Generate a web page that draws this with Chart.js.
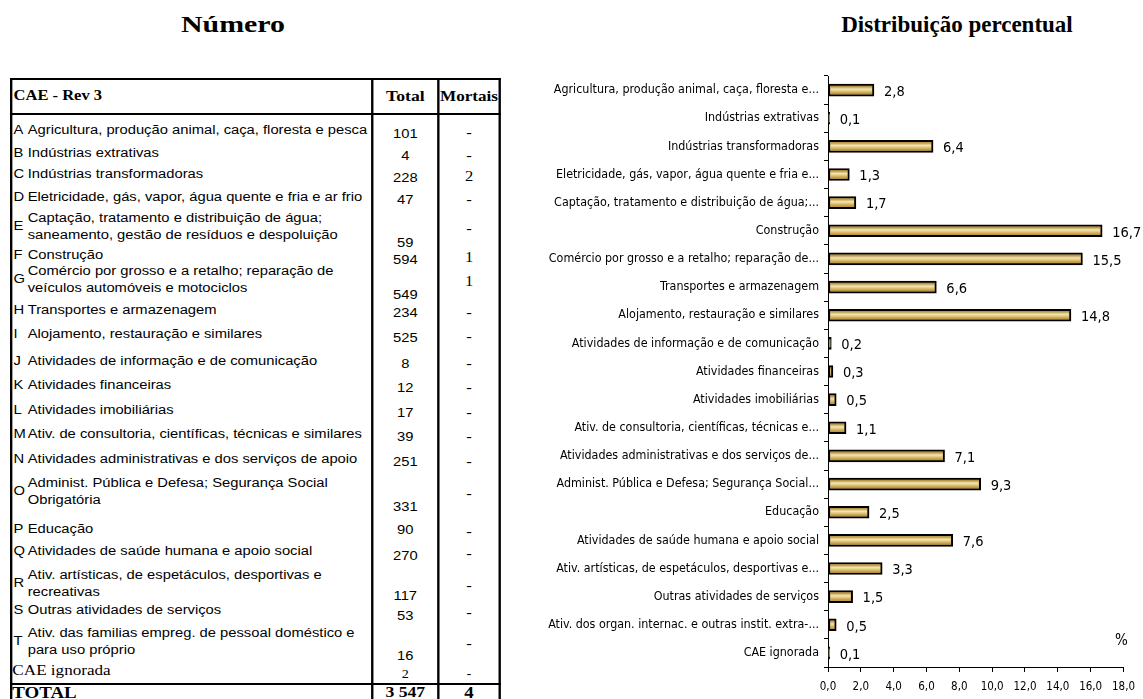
<!DOCTYPE html>
<html>
<head>
<meta charset="utf-8">
<script src="https://cdn.jsdelivr.net/npm/chart.js@4"></script>
<style>
  body { margin: 0; background: #fff; width: 1143px; height: 699px; overflow: hidden; position: relative; }
  .title { position: absolute; top: 12px; font: bold 23px "Liberation Serif", "Times New Roman", serif; color: #000; white-space: nowrap; }
  #t1 { left: 233px; transform: translateX(-50%) scaleX(1.3); }
  #t2 { left: 957px; transform: translateX(-50%); }
  /* table drawn in unscaled units, stretched sideways like the source */
  #tbl { position: absolute; left: 10px; top: 78px; width: 416px; height: 640px; transform: scaleX(1.18); transform-origin: 0 0;
         font: 12.5px "Liberation Sans", Arial, sans-serif; color: #000; }
  #tbl .ln { position: absolute; background: #000; }
  #tbl .tx { position: absolute; white-space: nowrap; line-height: 17px; }
  #tbl .ctr { transform: translateX(-50%); text-align: center; }
  #tbl .serif { font-family: "Liberation Serif", "Times New Roman", serif; }
  #tbl .hd { font: bold 15px "Liberation Serif", "Times New Roman", serif; }
  #chartBox { position: absolute; left: 540px; top: 60px; width: 603px; height: 639px; }
  #pct { position: absolute; left: 1115px; top: 631px; font: 15px "DejaVu Sans Condensed", sans-serif; }
</style>
</head>
<body>
<div class="title" id="t1">Número</div>
<div class="title" id="t2">Distribuição percentual</div>
<div id="tbl"></div>
<div id="chartBox"><canvas id="chart"></canvas></div>
<div id="pct">%</div>
<script>
// left table: number of accidents by CAE section
const sectionLetters = ['A','B','C','D','E','F','G','H','I','J','K','L','M','N','O','P','Q','R','S','T',''];
const sectionNames = [
  'Agricultura, produção animal, caça, floresta e pesca',
  'Indústrias extrativas',
  'Indústrias transformadoras',
  'Eletricidade, gás, vapor, água quente e fria e ar frio',
  'Captação, tratamento e distribuição de água;<br>saneamento, gestão de resíduos e despoluição',
  'Construção',
  'Comércio por grosso e a retalho; reparação de<br>veículos automóveis e motociclos',
  'Transportes e armazenagem',
  'Alojamento, restauração e similares',
  'Atividades de informação e de comunicação',
  'Atividades financeiras',
  'Atividades imobiliárias',
  'Ativ. de consultoria, científicas, técnicas e similares',
  'Atividades administrativas e dos serviços de apoio',
  'Administ. Pública e Defesa; Segurança Social<br>Obrigatória',
  'Educação',
  'Atividades de saúde humana e apoio social',
  'Ativ. artísticas, de espetáculos, desportivas e<br>recreativas',
  'Outras atividades de serviços',
  'Ativ. das familias empreg. de pessoal doméstico e<br>para uso próprio',
  'CAE ignorada'
];
const totals = ['101','4','228','47','59','594','549','234','525','8','12','17','39','251','331','90','270','117','53','16','2'];
const deaths = ['-','-','2','-','-','1','1','-','-','-','-','-','-','-','-','-','-','-','-','-','-'];
const grandTotal = '3 547';
const grandDeaths = '4';

// table layout (page y of first text line and of the total, per row)
const textY = [130,153,174,197,218,255,271,310,334,361,385,410,434,459,483,529,551,575,610,633,670];
const valueY = [134,156,178,200,243,260,295,313,338,364,388,413,437,462,507,530,556,596,616,656,674];

// right chart: percentage distribution
const chartLabels = [
  'Agricultura, produção animal, caça, floresta e...',
  'Indústrias extrativas',
  'Indústrias transformadoras',
  'Eletricidade, gás, vapor, água quente e fria e...',
  'Captação, tratamento e distribuição de água;...',
  'Construção',
  'Comércio por grosso e a retalho; reparação de...',
  'Transportes e armazenagem',
  'Alojamento, restauração e similares',
  'Atividades de informação e de comunicação',
  'Atividades financeiras',
  'Atividades imobiliárias',
  'Ativ. de consultoria, científicas, técnicas e...',
  'Atividades administrativas e dos serviços de...',
  'Administ. Pública e Defesa; Segurança Social...',
  'Educação',
  'Atividades de saúde humana e apoio social',
  'Ativ. artísticas, de espetáculos, desportivas e...',
  'Outras atividades de serviços',
  'Ativ. dos organ. internac. e outras instit. extra-...',
  'CAE ignorada'
];
const percentages = [2.8, 0.1, 6.4, 1.3, 1.7, 16.7, 15.5, 6.6, 14.8, 0.2, 0.3, 0.5, 1.1, 7.1, 9.3, 2.5, 7.6, 3.3, 1.5, 0.5, 0.1];

// ---- table ----
const tbl = document.getElementById('tbl');
const TOP = 78;            // page y of the table top
const COL_TOTAL = 306, COL_MORT = 362, WIDTH = 416;   // unscaled x of column rules

function line(x, y, w, h) {
  const d = document.createElement('div');
  d.className = 'ln';
  Object.assign(d.style, { left: x + 'px', top: y + 'px', width: w + 'px', height: h + 'px' });
  tbl.appendChild(d);
}
function put(html, x, pageY, cls) {
  const d = document.createElement('div');
  d.className = 'tx ' + (cls || '');
  d.innerHTML = html;
  d.style.left = x + 'px';
  d.style.top = (pageY - TOP - 8.5) + 'px';
  tbl.appendChild(d);
  return d;
}

line(0, 0, WIDTH, 2);                 // top
line(0, 0, 2, 640);                   // left
line(WIDTH - 2, 0, 2, 640);           // right
line(COL_TOTAL, 0, 2, 640);
line(COL_MORT, 0, 2, 640);
line(0, 35, WIDTH, 2);                // under header
line(0, 683 - TOP, WIDTH, 2);         // above TOTAL

put('CAE - Rev 3', 3, 96, 'hd').style.fontSize = '14px';
const midT = (COL_TOTAL + COL_MORT) / 2 + 1;
const midM = (COL_MORT + WIDTH) / 2;
put('Total', midT, 96, 'hd ctr');
put('Mortais', midM, 96, 'hd ctr').style.fontSize = '14.5px';

sectionNames.forEach((name, i) => {
  const two = name.includes('<br>');
  if (sectionLetters[i]) {
    put(sectionLetters[i], 3, two ? textY[i] + 8.5 : textY[i]);
    put(name, 15, textY[i]);
    put(totals[i], midT, valueY[i], 'ctr');
    const d = put(deaths[i], midM, two ? textY[i] + 10 : textY[i] + 2, 'ctr serif');
    d.style.fontSize = '14px';
  } else {
    const n = put(name, 2, textY[i], 'serif');
    n.style.fontSize = '14.5px';
    const v = put(totals[i], midT, valueY[i], 'ctr serif');
    v.style.fontSize = '12px';
    put(deaths[i], midM, valueY[i], 'ctr');
  }
});
put('TOTAL', 2, 692, 'hd').style.fontSize = '16px';
put(grandTotal, midT, 692, 'hd ctr');
put(grandDeaths, midM, 692, 'hd ctr').style.fontSize = '16px';

// ---- chart ----
// condensed sans to stand in for Arial Narrow
const narrow = '"DejaVu Sans Condensed", "DejaVu Sans", sans-serif';
const fmt = v => v.toFixed(1).replace('.', ',');

// paints the gold gradient inside each bar border and the value next to it
const goldBars = {
  id: 'goldBars',
  afterDatasetsDraw(chart) {
    const ctx = chart.ctx;
    const meta = chart.getDatasetMeta(0);
    meta.data.forEach((bar, i) => {
      const p = bar.getProps(['x', 'y', 'base', 'height'], true);
      const bw = 2;
      const top = p.y - p.height / 2 + bw, bot = p.y + p.height / 2 - bw;
      const left = Math.min(p.base, p.x) + bw, right = Math.max(p.base, p.x) - bw;
      if (right > left) {
        const g = ctx.createLinearGradient(0, top, 0, bot);
        g.addColorStop(0, '#a98331');
        g.addColorStop(0.38, '#f4e6b2');
        g.addColorStop(0.6, '#e3c981');
        g.addColorStop(1, '#b48c36');
        ctx.fillStyle = g;
        ctx.fillRect(left, top, right - left, bot - top);
      }
      ctx.save();
      ctx.font = '14.5px ' + narrow;
      ctx.fillStyle = '#000';
      ctx.textBaseline = 'middle';
      ctx.fillText(fmt(percentages[i]), p.x + 10, p.y + 2);
      ctx.restore();
    });
  }
};

new Chart(document.getElementById('chart'), {
  type: 'bar',
  data: {
    labels: chartLabels,
    datasets: [{
      data: percentages,
      backgroundColor: '#d4b060',
      borderColor: '#000',
      borderWidth: 2,
      borderSkipped: false,
      barThickness: 12
    }]
  },
  options: {
    indexAxis: 'y',
    responsive: true,
    maintainAspectRatio: false,
    animation: false,
    layout: { padding: { top: 16, right: 15, left: 0, bottom: 0 } },
    plugins: { legend: { display: false }, tooltip: { enabled: false } },
    scales: {
      x: {
        min: 0, max: 18,
        ticks: { stepSize: 2, color: '#000', font: { family: narrow, size: 11.5 }, padding: 8,
                 maxRotation: 0, callback: v => fmt(v) },
        grid: { drawOnChartArea: false, color: '#000', tickLength: 5 },
        border: { color: '#000' },
        afterFit: s => { s.height = 32; }
      },
      y: {
        ticks: { color: '#000', font: { family: narrow, size: 12.4 }, padding: 5, autoSkip: false },
        grid: { drawOnChartArea: false, color: '#000', tickLength: 4 },
        border: { color: '#000' },
        afterFit: s => { s.width = 288; }
      }
    }
  },
  plugins: [goldBars]
});
</script>
</body>
</html>
